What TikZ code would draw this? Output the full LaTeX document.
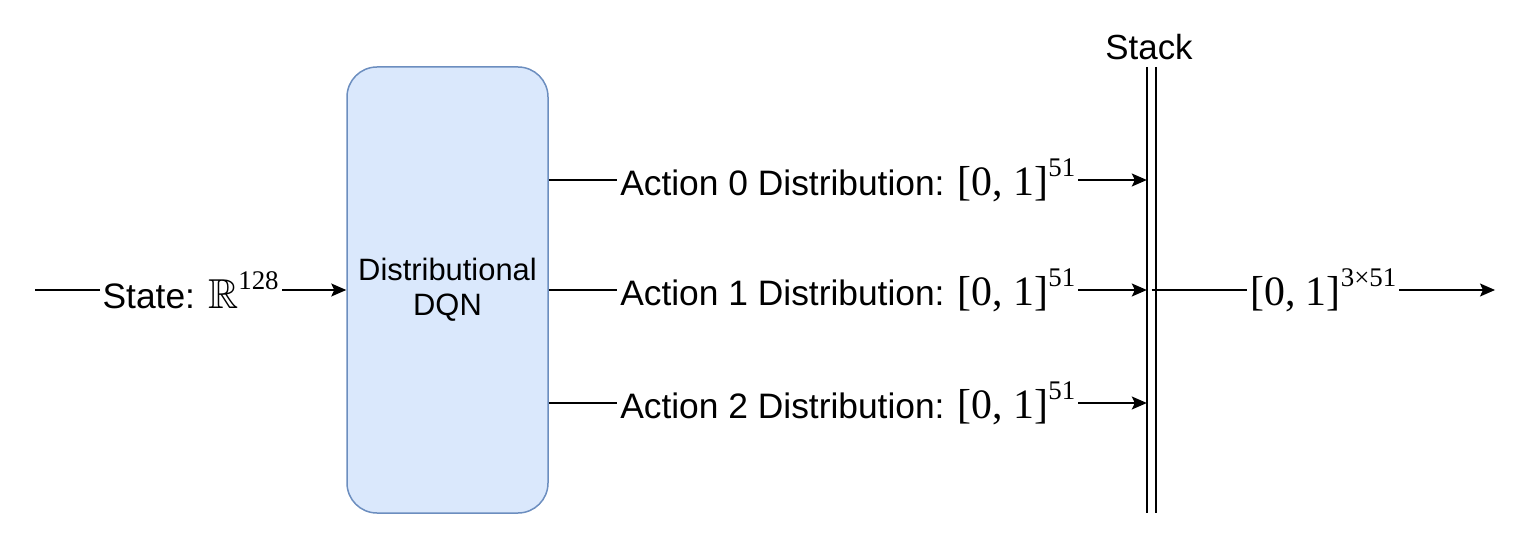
\documentclass[tikz,border=0pt]{standalone}
\usepackage{fontspec}
\usepackage{amssymb}
\setmainfont{Liberation Sans}
\newfontfamily\tnr{Liberation Serif}
\usetikzlibrary{arrows.meta}
\definecolor{boxfill}{HTML}{DAE8FC}
\definecolor{boxline}{HTML}{6C8EBF}
\newcommand{\mexp}[2]{{\tnr\fontsize{42}{42}\selectfont #1\raisebox{19bp}{\fontsize{27}{27}\selectfont #2}}}
\tikzset{
  conn/.style={line width=1.5bp, -{Stealth[length=15bp,width=13bp,inset=3bp]}},
  lab/.style={fill=white, inner sep=3bp, font=\fontsize{35.5}{40}\selectfont},
  netbox/.style={draw=boxline, fill=boxfill, line width=1.5bp, rounded corners=30bp,
     minimum width=201bp, minimum height=446bp, align=center, font=\fontsize{31}{35}\selectfont},
  barline/.style={line width=1.5bp},
}
\begin{document}
\begin{tikzpicture}[x=1bp,y=-1bp]
\useasboundingbox (0,0) rectangle (1540,538);
\coordinate (in) at (35,290);
\coordinate (out) at (1495,290);
\node[netbox] (dqn) at (447.5,290) {Distributional\\DQN};
\node[minimum width=9bp, minimum height=446bp, inner sep=0pt, draw=none] (bar) at (1151.5,290) {};
\draw[barline] (bar.north west) -- (bar.south west);
\draw[barline] (bar.north east) -- (bar.south east);
\node[font=\fontsize{35}{40}\selectfont] (stacklab) at (1149,47) {Stack};
\draw[conn] (in) -- node[lab] (s) {State: \mexp{$\mathbb{R}$}{128}} (dqn.west |- in);
\draw[conn] (dqn.east |- 0,180) -- node[lab] (a0) {Action 0 Distribution: \mexp{[0, 1]}{51}} (bar.west |- 0,180);
\draw[conn] (dqn.east |- 0,290) -- node[lab] (a1) {Action 1 Distribution: \mexp{[0, 1]}{51}} (bar.west |- 0,290);
\draw[conn] (dqn.east |- 0,403) -- node[lab] (a2) {Action 2 Distribution: \mexp{[0, 1]}{51}} (bar.west |- 0,403);
\draw[conn] (bar.center) -- node[lab] (o) {\mexp{[0, 1]}{3×51}} (out);
\end{tikzpicture}
\end{document}
